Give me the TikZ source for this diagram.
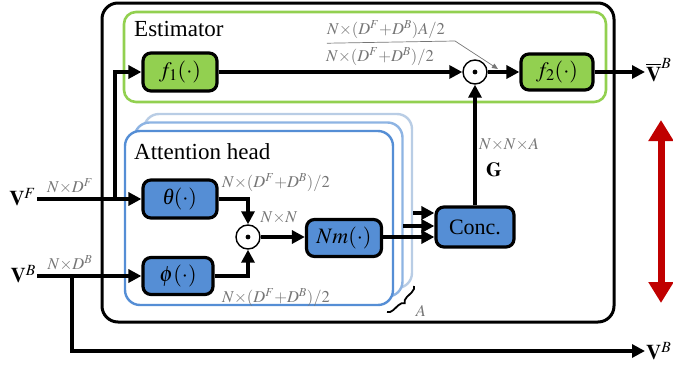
\documentclass[tikz,border=0pt]{standalone}
\usepackage{mathptmx}
\usepackage{fontspec}
\setmainfont{Liberation Serif}
\usetikzlibrary{arrows.meta,decorations.pathreplacing}

\definecolor{estgreen}{RGB}{146,208,80}
\definecolor{headblue}{RGB}{85,142,213}
\definecolor{headblueb}{RGB}{142,180,227}
\definecolor{headbluec}{RGB}{185,205,229}
\definecolor{dimgray}{RGB}{118,118,118}
\definecolor{bidired}{RGB}{192,0,0}

\newcommand{\dimsum}{N{\times}(D^F{+}D^B)}

\tikzset{
    flow/.style={line width=3.2pt, -{Triangle[length=13pt,width=13pt]}},
    func/.style={draw, line width=3.2pt, rounded corners=8pt, minimum width=74pt,
        minimum height=38pt, inner sep=0pt, font=\fontsize{22}{25}\selectfont},
    odot/.style={draw, circle, line width=1.4pt, minimum size=24pt, inner sep=0pt, fill=white,
        path picture={\fill[black] (path picture bounding box.center) circle (2.4pt);}},
    dimlabel/.style={text=dimgray, font=\fontsize{16.5}{18}\selectfont, inner sep=0pt},
    io/.style={font=\fontsize{21}{24}\selectfont, inner sep=1pt},
    title/.style={anchor=west, inner sep=0pt, font=\fontsize{23}{27}\selectfont},
}

\begin{document}
\begin{tikzpicture}[x=1pt, y=-1pt]

    \useasboundingbox (0,0) rectangle (673,367);

    \pgfmathsetmacro{\hx}{9.5} % shift of the stacked heads
    \pgfmathsetmacro{\hy}{8.5}

    % Frames
    \draw[line width=3pt, rounded corners=16pt] (102,3) rectangle (614,322);
    \draw[estgreen, line width=2.6pt, rounded corners=12pt] (124,12) rectangle (606,102);
    \foreach \k/\col in {2/headbluec, 1/headblueb, 0/headblue}
        {
            \draw[\col, line width=2.4pt, fill=white, rounded corners=15pt]
                (125+\hx*\k, 131-\hy*\k) rectangle (393+\hx*\k, 305-\hy*\k);
        }
    \node[title] at (134,29) {Estimator};
    \node[title] at (134,152) {Attention head};

    % Blocks
    \node[func, fill=estgreen] (f1) at (180,72) {$f_1(\cdot)$};
    \node[func, fill=estgreen, minimum width=72pt, minimum height=36pt] (f2) at (557,72) {$f_2(\cdot)$};
    \node[func, fill=headblue] (theta) at (180,199) {\textit{θ}$(\cdot)$};
    \node[func, fill=headblue, minimum width=70pt, minimum height=37pt] (phi) at (178,276) {$\phi(\cdot)$};
    \node[func, fill=headblue, minimum width=75pt, minimum height=37pt] (nm) at (344,238) {$Nm(\cdot)$};
    \node[func, fill=headblue, minimum width=78pt, minimum height=40pt] (conc) at (475,227) {Conc.};
    \node[odot] (o1) at (475,72) {};
    \node[odot] (o2) at (248,237) {};

    % Inputs and outputs
    \node[io, anchor=east] (vf) at (37,197) {$\mathbf{V}^F$};
    \node[io, anchor=east] (vb) at (37,274) {$\mathbf{V}^B$};
    \node[io, anchor=west] (vbar) at (645,70) {$\overline{\mathbf{V}}^B$};
    \node[io, anchor=west] (vbo) at (645,351) {$\mathbf{V}^B$};
    \coordinate (brF) at (115,199);
    \coordinate (brB) at (72,276);
    \coordinate (h2) at (403,226);
    \coordinate (h3) at (413,213);

    % Connections
    \draw[flow] (vf.east |- theta) -- (theta);
    \draw[flow] (vb.east |- phi) -- (phi);
    \draw[flow] (brF) |- (f1);
    \draw[flow] (brB) |- (vbo.west);
    \draw[flow] (f1) -- (o1);
    \draw[flow] (o1) -- (f2);
    \draw[flow] (f2) -- (vbar.west |- f2);
    \draw[flow] (theta.east) -| (o2.north);
    \draw[flow] (phi.east) -| (o2.south);
    \draw[flow] (o2) -- (nm.west |- o2);
    \draw[flow] (nm.east |- o2) -- (conc.west |- o2);
    \draw[flow] (h2) -- (conc.west |- h2);
    \draw[flow] (h3) -- (conc.west |- h3);
    \draw[flow] (conc) -- (o1);

    % Sizes
    \node[dimlabel] at (70,186) {$N{\times}D^F$};
    \node[dimlabel] at (70,263) {$N{\times}D^B$};
    \node[dimlabel] at (276,183) {$\dimsum/2$};
    \node[dimlabel] at (276,298) {$\dimsum/2$};
    \node[dimlabel] at (279,218) {$N{\times}N$};
    \node[dimlabel] at (509,145) {$N{\times}N{\times}A$};
    \node[font=\fontsize{20}{22}\selectfont, inner sep=0pt] at (494,170) {$\mathbf{G}$};
    \node[dimlabel] (dA) at (386,30) {$\dimsum A/2$};
    \node[dimlabel] at (380,57) {$\dimsum/2$};
    \coordinate (pt) at (498,69);
    \draw[dimgray, line width=0.7pt, -{Triangle[length=6pt,width=5pt]}]
        (dA.south west) ++(0,4) -- (455,41) -- (pt);

    % Number of heads
    \draw[line width=1.8pt, decorate, decoration={brace, amplitude=6pt}] (414,286) -- (387,312);
    \node[dimlabel] at (421,311) {$A$};

    % Two-way arrow
    \coordinate (rtop) at (661,120);
    \coordinate (rbot) at (661,303);
    \draw[bidired, line width=7pt, {Triangle[length=21pt,width=24pt]}-{Triangle[length=21pt,width=24pt]}] (rtop) -- (rbot);

\end{tikzpicture}
\end{document}
